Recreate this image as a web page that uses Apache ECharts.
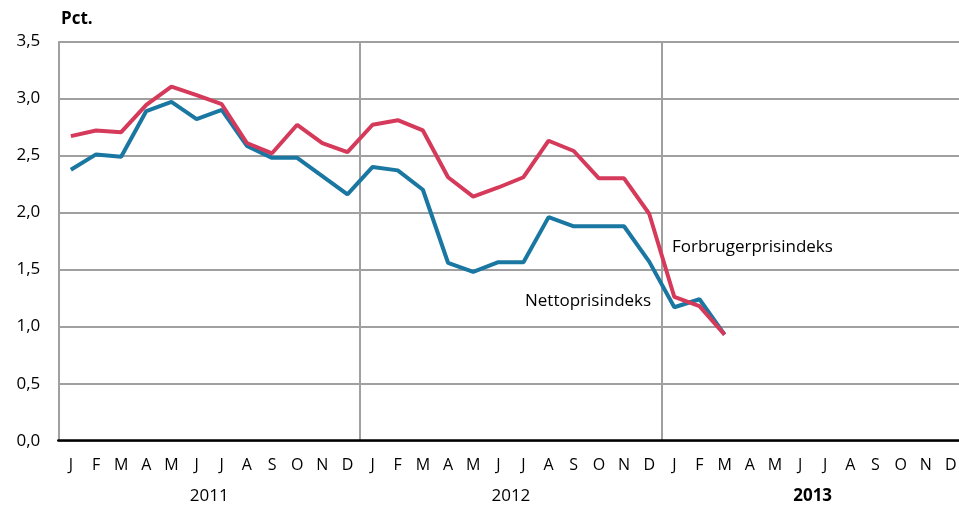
<!DOCTYPE html>
<html><head><meta charset="utf-8">
<script src="https://cdn.jsdelivr.net/npm/echarts@6/dist/echarts.min.js"></script>
<style>html,body{margin:0;padding:0;background:#fff;overflow:hidden}#c{width:964px;height:509px}</style>
</head><body><div id="c"></div>
<script>
var months = ['J','F','M','A','M','J','J','A','S','O','N','D','J','F','M','A','M','J','J','A','S','O','N','D','J','F','M','A','M','J','J','A','S','O','N','D'];
var years = ['2011','2012','2013'];
var yTicks = [0,0.5,1,1.5,2,2.5,3,3.5];
var forbruger = [2.67,2.72,2.705,2.945,3.105,3.03,2.95,2.61,2.52,2.77,2.61,2.53,
                 2.77,2.81,2.72,2.31,2.14,2.22,2.31,2.63,2.54,2.30,2.30,1.99,
                 1.26,1.18,0.93];
var netto = [2.375,2.51,2.49,2.89,2.97,2.82,2.90,2.585,2.48,2.48,2.32,2.16,
             2.40,2.37,2.20,1.56,1.48,1.565,1.565,1.96,1.88,1.88,1.88,1.57,
             1.17,1.24,0.93];
var FONT = '"Open Sans",sans-serif';
var chart = echarts.init(document.getElementById('c'));
chart.setOption({
  animation:false,
  grid:{left:58.3,right:0.5,top:41.5,bottom:68.3,containLabel:false},
  xAxis:[{
    type:'category',data:months,boundaryGap:true,
    axisLine:{show:true,lineStyle:{color:'#000',width:2.5}},
    axisTick:{show:false},
    axisLabel:{interval:0,color:'#000',fontSize:16,fontFamily:FONT,margin:17},
    splitLine:{show:true,interval:function(i){return i%12===0;},lineStyle:{color:'#a0a0a0',width:2}}
  },{
    type:'category',data:years,position:'bottom',offset:30,boundaryGap:true,
    axisLine:{show:false},axisTick:{show:false},splitLine:{show:false},
    axisLabel:{interval:0,color:'#000',fontSize:17,fontFamily:FONT,margin:17,
      formatter:function(v){return v==='2013'?'{b|'+v+'}':v;},
      rich:{b:{fontWeight:'bold',fontSize:17,fontFamily:FONT,color:'#000'}}}
  }],
  yAxis:{
    type:'value',min:yTicks[0],max:yTicks[yTicks.length-1],interval:0.5,
    axisLine:{show:false},axisTick:{show:false},
    axisLabel:{color:'#000',fontSize:17,fontFamily:FONT,margin:18,
      formatter:function(v){return v.toFixed(1).replace('.',',');}},
    splitLine:{show:true,lineStyle:{color:'#a0a0a0',width:2}}
  },
  graphic:[
    {type:'text',left:61,top:11,style:{text:'Pct.',font:'bold 17px '+FONT,fill:'#000'}},
    {type:'text',left:672,top:239,style:{text:'Forbrugerprisindeks',font:'17px '+FONT,fill:'#000'}},
    {type:'text',left:525,top:293,style:{text:'Nettoprisindeks',font:'17px '+FONT,fill:'#000'}}
  ],
  series:[
    {name:'Nettoprisindeks',type:'line',data:netto,showSymbol:false,
     lineStyle:{color:'#1a77a2',width:4},itemStyle:{color:'#1a77a2'},z:2},
    {name:'Forbrugerprisindeks',type:'line',data:forbruger,showSymbol:false,
     lineStyle:{color:'#d53a5b',width:4},itemStyle:{color:'#d53a5b'},z:3}
  ]
});
</script></body></html>
